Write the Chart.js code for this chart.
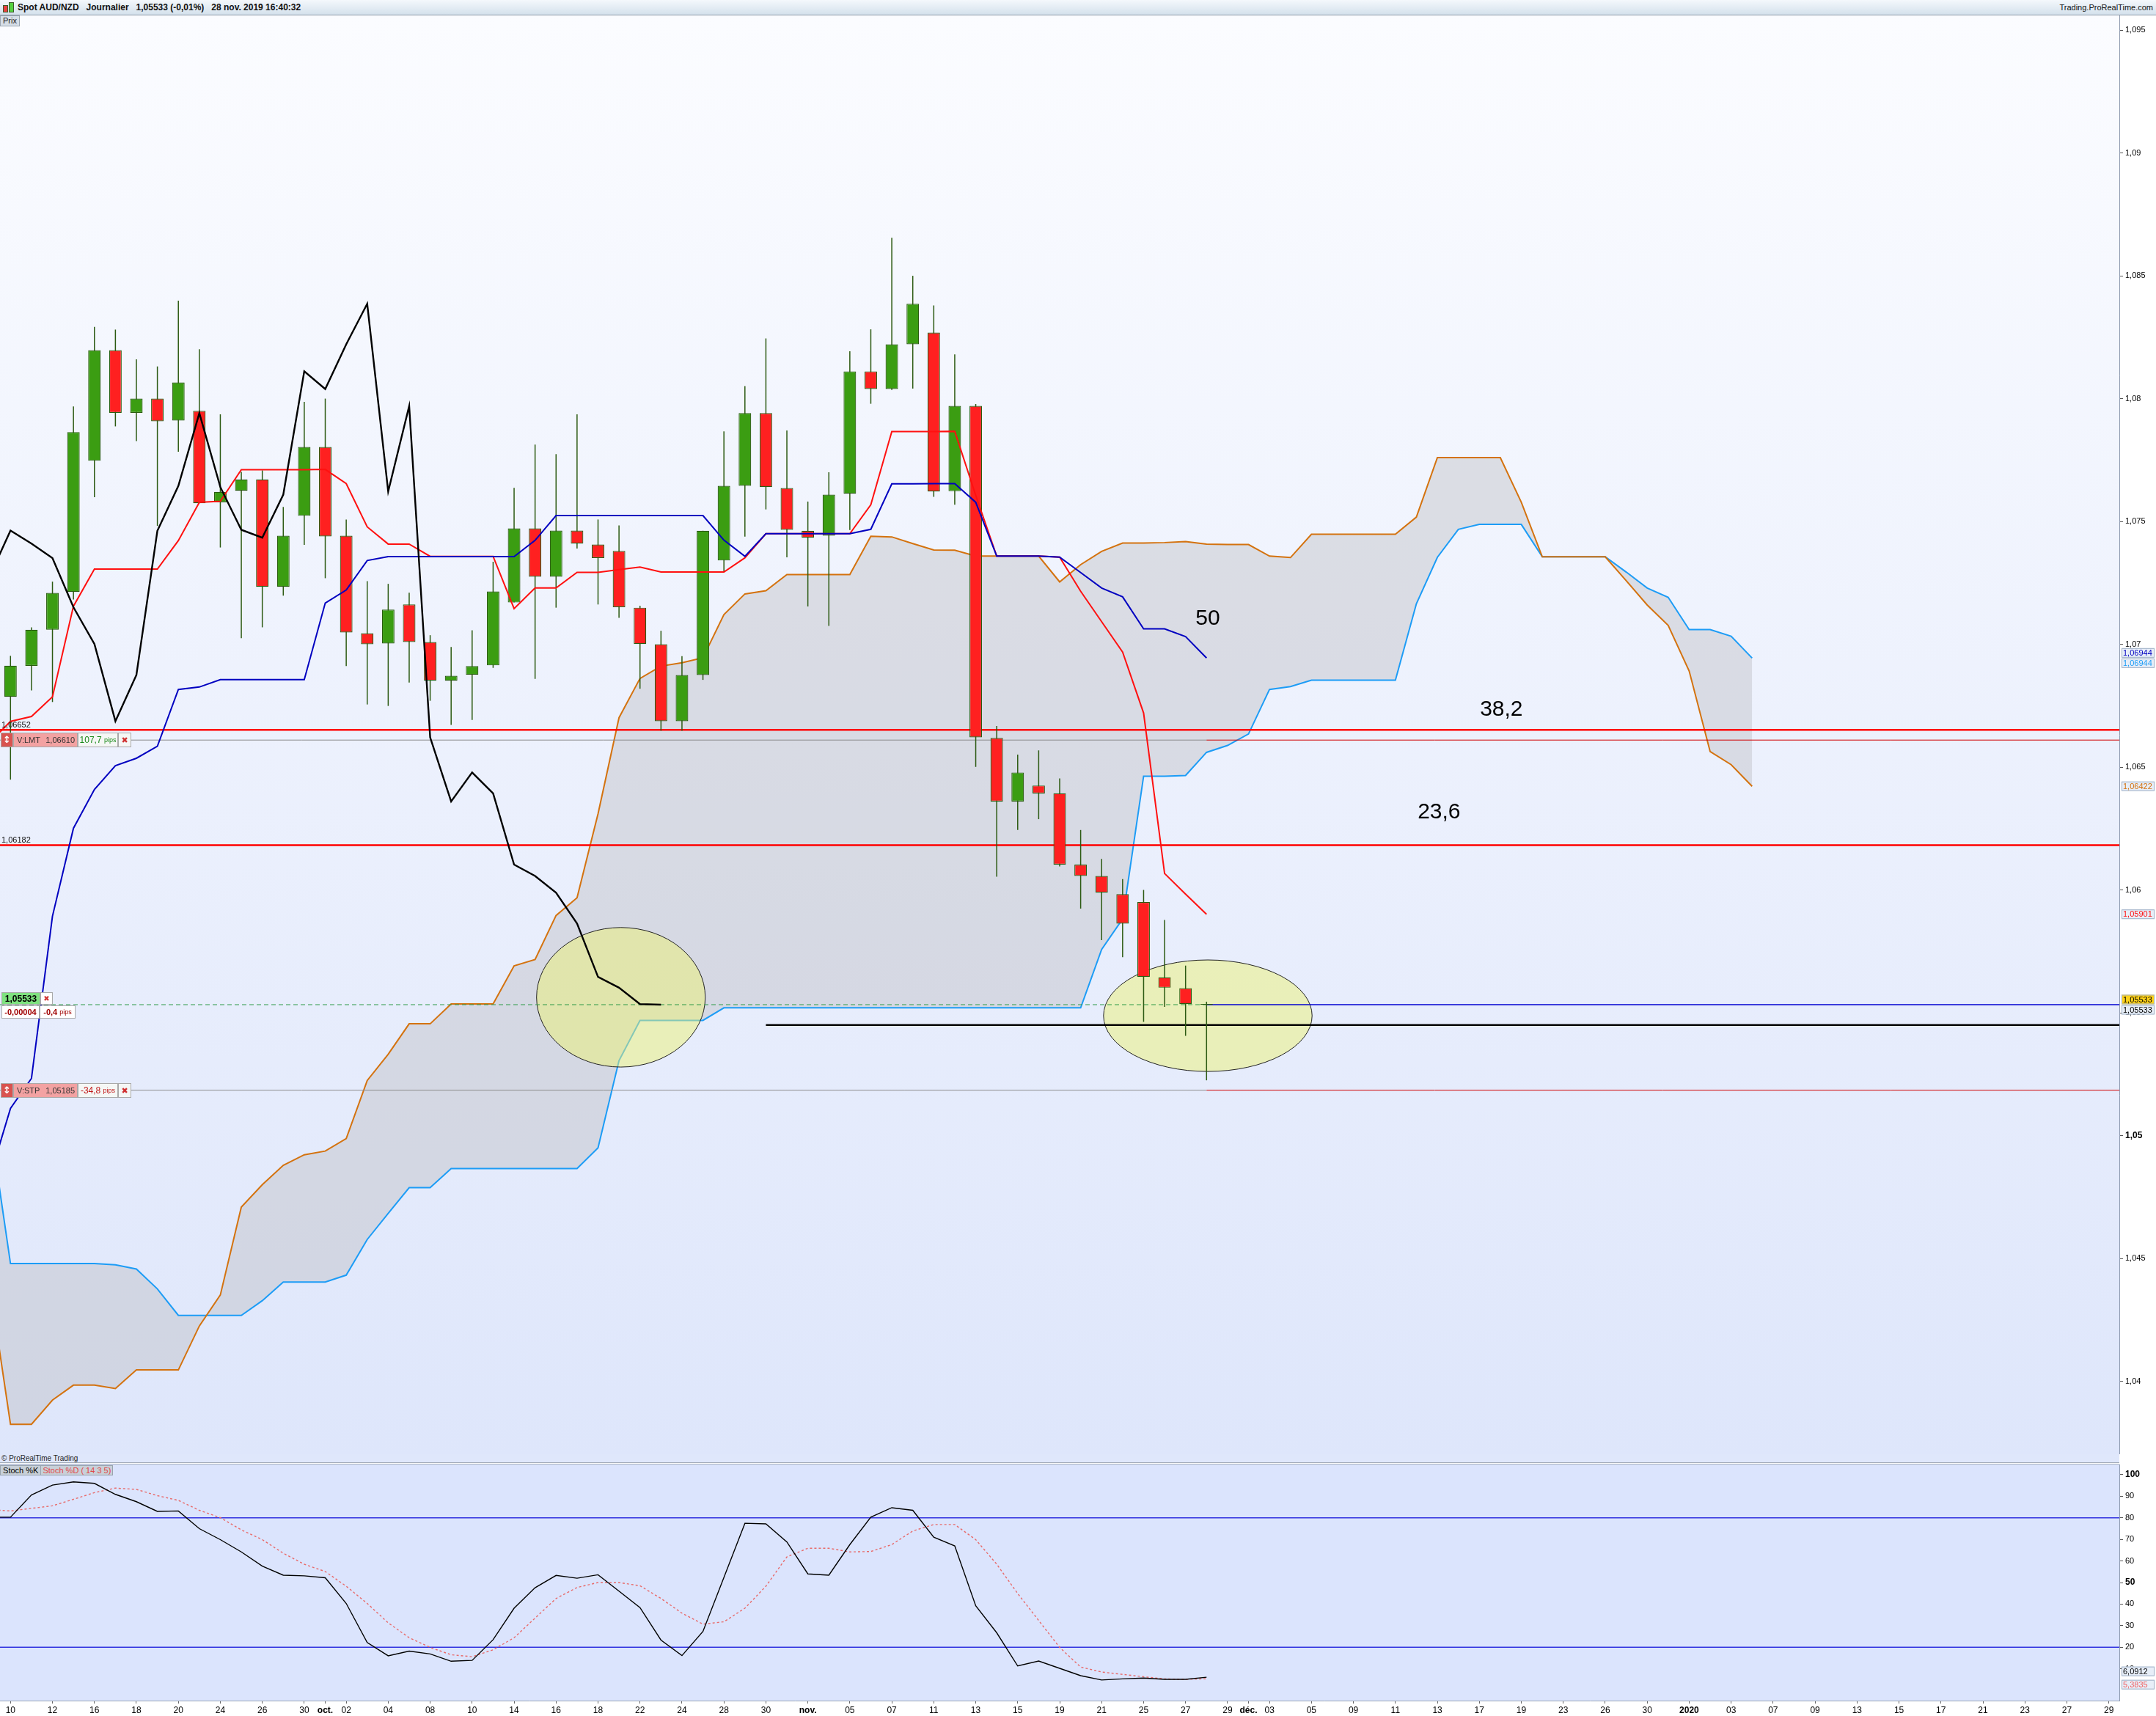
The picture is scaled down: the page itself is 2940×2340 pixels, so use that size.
<!DOCTYPE html>
<html lang="fr">
<head>
<meta charset="utf-8">
<title>Spot AUD/NZD Journalier</title>
<script src="https://cdn.jsdelivr.net/npm/chart.js@4.4.1/dist/chart.umd.min.js"></script>
<style>
  html, body { margin: 0; padding: 0; background: #fff; }
  #page { position: relative; width: 2940px; height: 2340px; overflow: hidden; background: #fff;
          font-family: "Liberation Sans Narrow", "Liberation Sans", Arial, sans-serif; }
  #header { position: absolute; left: 0; top: 0; width: 2940px; height: 20px;
            background: linear-gradient(#f4f8fc, #d4e1ec); border-bottom: 1px solid #8d9aa8; }
  #header .title { position: absolute; left: 24px; top: 3px; font-size: 12px; font-weight: bold; color: #111; white-space: pre; }
  #header .site { position: absolute; right: 4px; top: 4px; font-size: 11px; color: #111;
                  font-family: "Liberation Sans", Arial, sans-serif; }
  .ico { position: absolute; width: 5px; border: 1px solid #3b5a2a; }
  #prix { position: absolute; left: 0; top: 21px; padding: 0 3px; height: 13px; line-height: 13px; font-size: 11px;
          background: #d6dee7; border: 1px solid #9aa5b1; color: #222; z-index: 2; }
  canvas { position: absolute; left: 0; }
  #price { top: 21px; }
  #stoch { top: 1997px; }
  #strip { position: absolute; left: 0; top: 1983px; width: 2890px; height: 11px; background: #dfe7fb;
           font-size: 10px; line-height: 11px; color: #222; padding-left: 2px; box-sizing: border-box; }
  .sep { position: absolute; left: 0; width: 2890px; height: 1px; background: #a2abb8; }
  #stochTag { position: absolute; left: 0; top: 1998px; height: 12px; line-height: 12px; font-size: 11px;
              background: #c8d0d8; border: 1px solid #98a3ae; z-index: 2; white-space: pre; }
  #stochTag .d { color: #e04848; border-left: 1px solid #98a3ae; padding: 0 2px; }
</style>
</head>
<body>
<div id="page">
  <div id="header">
    <div class="ico" style="left:4px; top:7px; height:8px; background:#e84040;"></div>
    <div class="ico" style="left:12px; top:3px; height:12px; background:#55d040;"></div>
    <div class="title">Spot AUD/NZD   Journalier   1,05533 (-0,01%)   28 nov. 2019 16:40:32</div>
    <div class="site">Trading.ProRealTime.com</div>
  </div>
  <div id="prix">Prix</div>
  <canvas id="price" width="2940" height="1962"></canvas>
  <div id="strip">© ProRealTime Trading</div>
  <div class="sep" style="top:1994px"></div>
  <div class="sep" style="top:1996px"></div>
  <div id="stochTag"> Stoch %K <span class="d">Stoch %D ( 14 3 5)</span></div>
  <canvas id="stoch" width="2940" height="343"></canvas>
</div>

<script>
// ---------- SESSIONS (daily bars, weekends and 25 Dec closed) ----------
const sessions = [
  ["2019-09", [9, 10, 11, 12, 13, 16, 17, 18, 19, 20, 23, 24, 25, 26, 27, 30]],
  ["2019-10", [1, 2, 3, 4, 7, 8, 9, 10, 11, 14, 15, 16, 17, 18, 21, 22, 23, 24, 25, 28, 29, 30, 31]],
  ["2019-11", [1, 4, 5, 6, 7, 8, 11, 12, 13, 14, 15, 18, 19, 20, 21, 22, 25, 26, 27, 28, 29]],
  ["2019-12", [2, 3, 4, 5, 6, 9, 10, 11, 12, 13, 16, 17, 18, 19, 20, 23, 24, 26, 27, 30, 31]],
  ["2020-01", [1, 2, 3, 6, 7, 8, 9, 10, 13, 14, 15, 16, 17, 20, 21, 22, 23, 24, 27, 28, 29]],
];
const dates = [];
sessions.forEach(([month, days]) => days.forEach((d) => dates.push(month + "-" + String(d).padStart(2, "0"))));

const monthNames = { "10": "oct.", "11": "nov.", "12": "déc." };

// ---------- PRICE DATA (first candle = 10 sept.) ----------
const CANDLE_START = 1;
const opens = [
  1.06786, 1.06912, 1.07059, 1.07213, 1.07747, 1.08197, 1.07942, 1.08000, 1.07911, 1.07950,
  1.07578, 1.07625, 1.07671, 1.07234, 1.07523, 1.07803, 1.07442, 1.07045, 1.07003, 1.07162,
  1.07009, 1.06852, 1.06876, 1.06914, 1.07170, 1.07472, 1.07275, 1.07463, 1.07406, 1.07380,
  1.07149, 1.07000, 1.06687, 1.06875, 1.07341, 1.07645, 1.07941, 1.07636, 1.07462, 1.07442,
  1.07613, 1.08111, 1.08039, 1.08221, 1.08269, 1.07623, 1.07970, 1.06619, 1.06360, 1.06425,
  1.06393, 1.06103, 1.06057, 1.05983, 1.05951, 1.05644, 1.05600, 1.05533,
];
const closes = [
  1.06913, 1.07059, 1.07209, 1.07864, 1.08197, 1.07942, 1.08000, 1.07908, 1.08066, 1.07574,
  1.07620, 1.07671, 1.07234, 1.07442, 1.07803, 1.07439, 1.07048, 1.07000, 1.07141, 1.07009,
  1.06852, 1.06872, 1.06911, 1.07215, 1.07472, 1.07275, 1.07463, 1.07410, 1.07351, 1.07151,
  1.07001, 1.06687, 1.06875, 1.07462, 1.07645, 1.07941, 1.07640, 1.07466, 1.07434, 1.07609,
  1.08111, 1.08039, 1.08221, 1.08386, 1.07622, 1.07970, 1.06621, 1.06360, 1.06478, 1.06393,
  1.06103, 1.06057, 1.05989, 1.05863, 1.05646, 1.05602, 1.05535, 1.05533,
];
const highs = [
  1.06953, 1.07069, 1.07255, 1.07968, 1.08292, 1.08281, 1.08160, 1.08131, 1.08399, 1.08201,
  1.07936, 1.07702, 1.07708, 1.07559, 1.07987, 1.08000, 1.07508, 1.07257, 1.07246, 1.07210,
  1.07037, 1.06989, 1.07057, 1.07336, 1.07637, 1.07813, 1.07774, 1.07936, 1.07508, 1.07484,
  1.07157, 1.07055, 1.06952, 1.07462, 1.07867, 1.08051, 1.08245, 1.07870, 1.07581, 1.07700,
  1.08193, 1.08282, 1.08655, 1.08500, 1.08379, 1.08180, 1.07978, 1.06667, 1.06551, 1.06568,
  1.06454, 1.06244, 1.06126, 1.06044, 1.06000, 1.05878, 1.05692, 1.05545,
];
const lows = [
  1.06449, 1.06812, 1.06765, 1.07182, 1.07599, 1.07887, 1.07827, 1.07482, 1.07784, 1.07574,
  1.07394, 1.07025, 1.07069, 1.07198, 1.07405, 1.07269, 1.06911, 1.06755, 1.06749, 1.06844,
  1.06770, 1.06672, 1.06692, 1.06904, 1.07170, 1.06859, 1.07149, 1.07390, 1.07162, 1.07108,
  1.06819, 1.06648, 1.06648, 1.06855, 1.07294, 1.07438, 1.07549, 1.07354, 1.07154, 1.07075,
  1.07465, 1.07979, 1.08035, 1.08041, 1.07600, 1.07568, 1.06501, 1.06054, 1.06244, 1.06288,
  1.06096, 1.05924, 1.05796, 1.05726, 1.05463, 1.05524, 1.05406, 1.05225,
];

// ---------- ICHIMOKU (first value = 9 sept.) ----------
const tenkan = [
  1.06600, 1.06686, 1.06706, 1.06786, 1.07155, 1.07306, 1.07306, 1.07306, 1.07306, 1.07422,
  1.07578, 1.07582, 1.07711, 1.07711, 1.07711, 1.07711, 1.07712, 1.07654, 1.07478, 1.07408,
  1.07408, 1.07358, 1.07358, 1.07358, 1.07358, 1.07145, 1.07229, 1.07229, 1.07293, 1.07293,
  1.07304, 1.07314, 1.07294, 1.07294, 1.07294, 1.07294, 1.07352, 1.07450, 1.07450, 1.07450,
  1.07450, 1.07450, 1.07568, 1.07866, 1.07866, 1.07866, 1.07867, 1.07606, 1.07359, 1.07359,
  1.07359, 1.07355, 1.07216, 1.07092, 1.06968, 1.06720, 1.06067, 1.05983, 1.05901,
];
const kijun = [
  1.04827, 1.05111, 1.05233, 1.05893, 1.06251, 1.06409, 1.06506, 1.06536, 1.06585, 1.06816,
  1.06826, 1.06856, 1.06856, 1.06856, 1.06856, 1.06856, 1.07168, 1.07221, 1.07341, 1.07357,
  1.07357, 1.07357, 1.07357, 1.07357, 1.07357, 1.07357, 1.07423, 1.07524, 1.07524, 1.07524,
  1.07524, 1.07524, 1.07524, 1.07524, 1.07524, 1.07424, 1.07358, 1.07450, 1.07450, 1.07450,
  1.07450, 1.07450, 1.07468, 1.07653, 1.07653, 1.07654, 1.07654, 1.07578, 1.07359, 1.07359,
  1.07359, 1.07355, 1.07292, 1.07229, 1.07193, 1.07063, 1.07063, 1.07031, 1.06944,
];
const senkouB = [
  1.04399, 1.03825, 1.03825, 1.03923, 1.03984, 1.03984, 1.03970, 1.04046, 1.04046, 1.04046,
  1.04225, 1.04351, 1.04709, 1.04800, 1.04879, 1.04922, 1.04937, 1.04988, 1.05224, 1.05331,
  1.05455, 1.05455, 1.05536, 1.05536, 1.05536, 1.05691, 1.05717, 1.05896, 1.05968, 1.06310,
  1.06701, 1.06861, 1.06911, 1.06925, 1.06945, 1.07121, 1.07205, 1.07218, 1.07284, 1.07284,
  1.07284, 1.07284, 1.07440, 1.07437, 1.07410, 1.07384, 1.07383, 1.07359, 1.07359, 1.07359,
  1.07359, 1.07254, 1.07324, 1.07378, 1.07412, 1.07412, 1.07414, 1.07418, 1.07408, 1.07406,
  1.07406, 1.07359, 1.07353, 1.07448, 1.07448, 1.07448, 1.07448, 1.07448, 1.07518, 1.07760,
  1.07760, 1.07760, 1.07760, 1.07578, 1.07356, 1.07356, 1.07356, 1.07356, 1.07259, 1.07160,
  1.07077, 1.06891, 1.06563, 1.06510, 1.06422,
];
const senkouA = [
  1.05063, 1.04479, 1.04479, 1.04479, 1.04479, 1.04479, 1.04474, 1.04457, 1.04376, 1.04268,
  1.04268, 1.04268, 1.04268, 1.04328, 1.04404, 1.04404, 1.04404, 1.04432, 1.04577, 1.04683,
  1.04788, 1.04788, 1.04866, 1.04866, 1.04866, 1.04866, 1.04866, 1.04866, 1.04866, 1.04950,
  1.05305, 1.05469, 1.05469, 1.05469, 1.05469, 1.05520, 1.05520, 1.05520, 1.05520, 1.05520,
  1.05520, 1.05520, 1.05520, 1.05520, 1.05520, 1.05520, 1.05520, 1.05520, 1.05520, 1.05520,
  1.05520, 1.05520, 1.05520, 1.05758, 1.05882, 1.06463, 1.06463, 1.06466, 1.06560, 1.06588,
  1.06635, 1.06816, 1.06828, 1.06854, 1.06854, 1.06854, 1.06854, 1.06854, 1.07165, 1.07354,
  1.07468, 1.07488, 1.07488, 1.07488, 1.07356, 1.07356, 1.07356, 1.07356, 1.07294, 1.07229,
  1.07191, 1.07060, 1.07060, 1.07033, 1.06944,
];
const CHIKOU_LAG = 26;

// ---------- STOCHASTIC (first value = 9 sept.) ----------
const stochK = [
  80.3, 80.3, 90.6, 95.2, 96.7, 96.0, 90.9, 87.5, 83.0, 83.2,
  75.0, 69.9, 64.2, 57.6, 53.4, 53.1, 52.2, 40.3, 22.2, 16.0,
  18.2, 16.9, 13.5, 13.9, 23.5, 38.1, 47.6, 53.3, 52.0, 53.6,
  46.0, 38.4, 23.3, 16.1, 27.3, 52.4, 77.5, 77.2, 68.8, 54.0,
  53.4, 67.6, 80.3, 84.7, 83.5, 71.0, 67.0, 39.2, 26.7, 11.3,
  13.6, 10.2, 6.8, 4.8, 5.3, 5.7, 5.1, 5.1, 6.0912,
];
const stochD = [
  83.8, 83.2, 84.4, 85.6, 88.6, 91.7, 93.8, 93.2, 90.3, 88.1,
  83.5, 80.1, 74.4, 69.9, 63.6, 58.5, 55.1, 48.3, 40.3, 31.3,
  24.4, 19.9, 16.5, 15.6, 18.8, 24.4, 33.5, 42.6, 47.7, 50.0,
  50.0, 48.5, 42.6, 35.8, 30.7, 31.8, 38.1, 48.3, 61.9, 65.9,
  65.9, 64.2, 64.4, 67.6, 73.9, 76.9, 76.9, 69.9, 58.5, 44.9,
  32.4, 19.9, 10.8, 8.5, 7.4, 6.3, 5.3, 5.1, 5.3835,
];
const stochBands = [80, 20];
const stochTicks = [10, 20, 30, 40, 50, 60, 70, 80, 90, 100];

// ---------- LEVELS & ANNOTATIONS ----------
const priceTicks = [1.04, 1.045, 1.05, 1.055, 1.06, 1.065, 1.07, 1.075, 1.08, 1.085, 1.09, 1.095];
const fibLevels = [1.06652, 1.06182];
const fibNames = ["38,2", "23,6"];
const fibNamePos = [[72.05, 1.06733], [69.08, 1.06315]];
const kijunNote = { text: "50", x: 58.06, y: 1.07103 };
const lastPrice = 1.05533;
const lastChange = { value: "-0,00004", pips: "-0,4" };
const orderLimit = { name: "V:LMT", price: 1.06610, pips: "107,7", color: "#1b8a1b" };
const orderStop = { name: "V:STP", price: 1.05185, pips: "-34,8", color: "#c01818" };
const supportLevel = 1.05450;
const supportFrom = 37;
const circles = [
  { x: 30.09, y: 1.05563, rx: 4.02, ry: 0.00284 },
  { x: 58.06, y: 1.05488, rx: 4.97, ry: 0.00227 },
];

const PRICE_MIN = 1.03703;
const PRICE_MAX = 1.09560;
const X_MIN = 0.5;
const X_MAX = dates.length - 0.5;
const LAST_POS = CANDLE_START + closes.length - 1;
const AXIS_W = 50;

// ---------- HELPERS ----------
const fmt = (v, d) => v.toFixed(d).replace(".", ",");
const fmtTick = (v) => String(Math.round(v * 1000) / 1000).replace(".", ",");
const toPoints = (arr, start = 0) => arr.map((v, i) => ({ x: i + start, y: v }));

function isMonthStart(p) {
  return p > 0 && dates[p].slice(0, 7) !== dates[p - 1].slice(0, 7);
}
function tickText(p) {
  const d = dates[p];
  if (!d) return "";
  if (isMonthStart(p)) {
    const m = d.slice(5, 7);
    return m === "01" ? d.slice(0, 4) : monthNames[m];
  }
  return d.slice(8, 10);
}
const tickPositions = dates.map((d, p) => p).filter((p) => p >= 1 && (p % 2 === 1 || isMonthStart(p)));

const NARROW = "'Liberation Sans Narrow', 'Liberation Sans', Arial, sans-serif";
const SANS = "'Liberation Sans', Arial, sans-serif";
Chart.defaults.font.family = SANS;

function hline(chart, value, fromPos, toPos, color, width, dash) {
  const { ctx, chartArea, scales } = chart;
  const y = scales.y.getPixelForValue(value);
  const x0 = fromPos == null ? chartArea.left : scales.x.getPixelForValue(fromPos);
  const x1 = toPos == null ? chartArea.right : scales.x.getPixelForValue(toPos);
  ctx.save();
  ctx.strokeStyle = color;
  ctx.lineWidth = width;
  ctx.setLineDash(dash || []);
  ctx.beginPath();
  ctx.moveTo(x0, y);
  ctx.lineTo(x1, y);
  ctx.stroke();
  ctx.restore();
}

// a row of boxed cells; each cell holds one or more text parts
function cellRow(ctx, x, top, h, cells) {
  cells.forEach((c) => {
    ctx.fillStyle = c.bg;
    ctx.fillRect(x, top, c.w, h);
    ctx.strokeStyle = "#a9a9a9";
    ctx.lineWidth = 1;
    ctx.strokeRect(x + 0.5, top + 0.5, c.w - 1, h - 1);
    ctx.textBaseline = "middle";
    ctx.textAlign = "left";
    const parts = c.parts;
    if (c.spread && parts.length === 2) {
      ctx.font = parts[0].font; ctx.fillStyle = parts[0].color;
      ctx.fillText(parts[0].text, x + 5, top + h / 2 + 1);
      ctx.font = parts[1].font; ctx.fillStyle = parts[1].color;
      ctx.textAlign = "right";
      ctx.fillText(parts[1].text, x + c.w - 4, top + h / 2 + 1);
    } else {
      let total = 0;
      parts.forEach((p) => { ctx.font = p.font; total += ctx.measureText(p.text).width; });
      let cx = x + (c.w - total) / 2;
      parts.forEach((p) => {
        ctx.font = p.font; ctx.fillStyle = p.color;
        ctx.fillText(p.text, cx, top + h / 2 + 1);
        cx += ctx.measureText(p.text).width;
      });
    }
    x += c.w;
  });
}

function orderRow(ctx, y, order) {
  cellRow(ctx, 1, y - 10, 20, [
    { w: 17, bg: "#d9534f", parts: [{ text: "↕", color: "#fff", font: "bold 13px 'DejaVu Sans'" }] },
    { w: 88, bg: "#f3a2a2", spread: true, parts: [
      { text: order.name, color: "#333", font: "11px " + SANS },
      { text: fmt(order.price, 5), color: "#333", font: "11px " + SANS }] },
    { w: 55, bg: "#f5f7f5", parts: [
      { text: order.pips + " ", color: order.color, font: "12px " + SANS },
      { text: "pips", color: order.color, font: "9px " + SANS }] },
    { w: 18, bg: "#f5f7f5", parts: [{ text: "✖", color: "#d03030", font: "11px 'DejaVu Sans'" }] },
  ]);
}

function axisTag(chart, value, text, color, bg, dy) {
  const { ctx, chartArea, scales } = chart;
  const y = scales.y.getPixelForValue(value) + (dy || 0);
  const x = chartArea.right + 3;
  ctx.save();
  ctx.fillStyle = bg || "#e7eef8";
  ctx.fillRect(x, y - 6.5, 45, 13);
  ctx.strokeStyle = "#9fb0c6";
  ctx.lineWidth = 1;
  ctx.strokeRect(x + 0.5, y - 6, 44, 12);
  ctx.fillStyle = color;
  ctx.font = "11px " + SANS;
  ctx.textAlign = "left";
  ctx.textBaseline = "middle";
  ctx.fillText(text, x + 2, y + 0.5);
  ctx.restore();
}

// ---------- MAIN PANEL PLUGIN ----------
const pricePanel = {
  id: "pricePanel",
  beforeDraw(chart) {
    const { ctx, chartArea: a } = chart;
    const g = ctx.createLinearGradient(0, a.top, 0, a.bottom);
    g.addColorStop(0, "#fbfcff");
    g.addColorStop(1, "#dee6fb");
    ctx.save();
    ctx.fillStyle = g;
    ctx.fillRect(a.left, a.top, a.right - a.left, a.bottom - a.top);
    ctx.restore();
  },
  afterDatasetDraw(chart, args) {
    if (args.index !== 0) return;
    const { ctx, chartArea: a, scales } = chart;
    ctx.save();
    ctx.beginPath();
    ctx.rect(a.left, a.top, a.right - a.left, a.bottom - a.top);
    ctx.clip();

    // circled zones
    circles.forEach((e) => {
      const cx = scales.x.getPixelForValue(e.x);
      const cy = scales.y.getPixelForValue(e.y);
      const rx = scales.x.getPixelForValue(e.x + e.rx) - cx;
      const ry = cy - scales.y.getPixelForValue(e.y + e.ry);
      ctx.beginPath();
      ctx.ellipse(cx, cy, rx, ry, 0, 0, Math.PI * 2);
      ctx.fillStyle = "rgba(236, 242, 118, 0.5)";
      ctx.fill();
      ctx.strokeStyle = "#222";
      ctx.lineWidth = 1;
      ctx.stroke();
    });

    // orders
    hline(chart, orderLimit.price, null, LAST_POS, "#8c8c8c", 1);
    hline(chart, orderLimit.price, LAST_POS, null, "#d00000", 1);
    hline(chart, orderStop.price, null, LAST_POS, "#8c8c8c", 1);
    hline(chart, orderStop.price, LAST_POS, null, "#d00000", 1);
    // fibonacci levels
    fibLevels.forEach((v) => hline(chart, v, null, null, "#ff0000", 2.5));
    // last price and support
    hline(chart, lastPrice, null, LAST_POS, "#2d9a47", 1.2, [6, 4]);
    hline(chart, lastPrice, LAST_POS, null, "#0000d0", 1.6);
    hline(chart, supportLevel, supportFrom, null, "#000000", 2.4);
    ctx.restore();
  },
  afterDraw(chart) {
    const { ctx, chartArea: a, scales } = chart;
    const y = (v) => scales.y.getPixelForValue(v);
    const x = (p) => scales.x.getPixelForValue(p);
    ctx.save();

    // small level values above the fib lines
    ctx.font = "11px " + SANS;
    ctx.fillStyle = "#111";
    ctx.textAlign = "left";
    ctx.textBaseline = "bottom";
    fibLevels.forEach((v) => ctx.fillText(fmt(v, 5), a.left + 2, y(v) - 1));

    // big annotations
    ctx.font = "30px " + SANS;
    ctx.fillStyle = "#000";
    ctx.textAlign = "center";
    ctx.textBaseline = "middle";
    fibNames.forEach((t, i) => ctx.fillText(t, x(fibNamePos[i][0]), y(fibNamePos[i][1])));
    ctx.fillText(kijunNote.text, x(kijunNote.x), y(kijunNote.y));

    // order tags
    orderRow(ctx, Math.round(y(orderLimit.price)), orderLimit);
    orderRow(ctx, Math.round(y(orderStop.price)), orderStop);
    const lastY = Math.round(y(lastPrice));
    cellRow(ctx, 2, lastY - 17, 17, [
      { w: 53, bg: "#7fe27f", parts: [{ text: fmt(lastPrice, 5), color: "#000", font: "bold 12px " + SANS }] },
      { w: 17, bg: "#ffffff", parts: [{ text: "✖", color: "#d03030", font: "10px 'DejaVu Sans'" }] },
    ]);
    cellRow(ctx, 2, lastY + 1, 18, [
      { w: 52, bg: "#ffffff", parts: [{ text: lastChange.value, color: "#a00000", font: "bold 11px " + SANS }] },
      { w: 49, bg: "#ffffff", parts: [
        { text: lastChange.pips + " ", color: "#a00000", font: "bold 11px " + SANS },
        { text: "pips", color: "#a00000", font: "9px " + SANS }] },
    ]);

    // right axis tags
    axisTag(chart, kijun[kijun.length - 1], fmt(kijun[kijun.length - 1], 5), "#0000c0", null, -7);
    axisTag(chart, senkouA[senkouA.length - 1], fmt(senkouA[senkouA.length - 1], 5), "#1c9cf6", null, 7);
    axisTag(chart, senkouB[senkouB.length - 1], fmt(senkouB[senkouB.length - 1], 5), "#d4720e");
    axisTag(chart, tenkan[tenkan.length - 1], fmt(tenkan[tenkan.length - 1], 5), "#ff1010");
    axisTag(chart, lastPrice, fmt(lastPrice, 5), "#000", "#ffd21a", -7);
    axisTag(chart, lastPrice, fmt(lastPrice, 5), "#000", null, 7);
    ctx.restore();
  },
};

// ---------- MAIN CHART ----------
const wickData = highs.map((h, i) => ({ x: i + CANDLE_START, y: [lows[i], h] }));
const bodyData = opens.map((o, i) => ({ x: i + CANDLE_START, y: [o, closes[i]] }));
const bodyColors = opens.map((o, i) => (closes[i] >= o ? "#3b9d12" : "#ff2020"));
const chikou = toPoints(closes.slice(CHIKOU_LAG - CANDLE_START), 0);

const priceChart = new Chart(document.getElementById("price"), {
  type: "bar",
  data: {
    datasets: [
      { type: "line", label: "Senkou B", data: toPoints(senkouB), borderColor: "#d4720e", borderWidth: 2,
        pointRadius: 0, tension: 0, order: 10 },
      { type: "line", label: "Senkou A", data: toPoints(senkouA), borderColor: "#1c9cf6", borderWidth: 2,
        pointRadius: 0, tension: 0, fill: "-1", backgroundColor: "rgba(188, 189, 194, 0.42)", order: 11 },
      { label: "Mèches", data: wickData, backgroundColor: "#2c5a12", grouped: false, maxBarThickness: 1.5, order: 6 },
      { label: "Corps", data: bodyData, backgroundColor: bodyColors, borderColor: "#2a5c10", borderWidth: 1.2,
        borderSkipped: false, grouped: false, maxBarThickness: 17, minBarLength: 1, order: 5 },
      { type: "line", label: "Tenkan", data: toPoints(tenkan), borderColor: "#ff1010", borderWidth: 2,
        pointRadius: 0, tension: 0, order: 4 },
      { type: "line", label: "Kijun", data: toPoints(kijun), borderColor: "#0000c0", borderWidth: 2,
        pointRadius: 0, tension: 0, order: 3 },
      { type: "line", label: "Chikou", data: chikou, borderColor: "#000000", borderWidth: 2.4,
        pointRadius: 0, tension: 0, order: 2 },
    ],
  },
  options: {
    responsive: false,
    animation: false,
    devicePixelRatio: 1,
    events: [],
    layout: { padding: 0 },
    plugins: { legend: { display: false }, tooltip: { enabled: false } },
    scales: {
      x: {
        type: "linear", min: X_MIN, max: X_MAX, offset: false, display: false,
        afterBuildTicks: (s) => { s.ticks = tickPositions.map((v) => ({ value: v })); },
      },
      y: {
        position: "right", min: PRICE_MIN, max: PRICE_MAX,
        afterBuildTicks: (s) => { s.ticks = priceTicks.map((v) => ({ value: v })); },
        afterFit: (s) => { s.width = AXIS_W; s.paddingTop = 0; s.paddingBottom = 0; },
        ticks: {
          padding: 3, color: "#000",
          font: (c) => ({ size: c.tick && Math.abs(c.tick.value - 1.05) < 1e-9 ? 12 : 11,
                          weight: c.tick && Math.abs(c.tick.value - 1.05) < 1e-9 ? "bold" : "normal" }),
          callback: (v) => fmtTick(v),
        },
        grid: { drawOnChartArea: false, drawTicks: true, tickLength: 5, color: "#555" },
        border: { display: true, color: "#8f9bb0" },
      },
    },
  },
  plugins: [pricePanel],
});

// ---------- STOCHASTIC PANEL ----------
const stochPanel = {
  id: "stochPanel",
  beforeDraw(chart) {
    const { ctx, chartArea: a } = chart;
    ctx.save();
    ctx.fillStyle = "#dbe4fd";
    ctx.fillRect(a.left, a.top, a.right - a.left, a.bottom - a.top);
    ctx.restore();
  },
  beforeDatasetsDraw(chart) {
    stochBands.forEach((v) => hline(chart, v, null, null, "#3232e0", 1.5));
  },
  afterDraw(chart) {
    const { ctx } = chart;
    ctx.save();
    axisTag(chart, stochK[stochK.length - 1], fmt(stochK[stochK.length - 1], 4), "#000", null, -8);
    axisTag(chart, stochD[stochD.length - 1], fmt(stochD[stochD.length - 1], 4), "#f06060", null, 8);
    ctx.restore();
  },
};

const stochChart = new Chart(document.getElementById("stoch"), {
  type: "line",
  data: {
    datasets: [
      { label: "Stoch %K", data: toPoints(stochK), borderColor: "#000", borderWidth: 1.4, pointRadius: 0, tension: 0 },
      { label: "Stoch %D", data: toPoints(stochD), borderColor: "#e86a6a", borderWidth: 1.4, borderDash: [3, 3],
        pointRadius: 0, tension: 0 },
    ],
  },
  options: {
    responsive: false,
    animation: false,
    devicePixelRatio: 1,
    events: [],
    layout: { padding: 0 },
    plugins: { legend: { display: false }, tooltip: { enabled: false } },
    scales: {
      x: {
        type: "linear", min: X_MIN, max: X_MAX, offset: false,
        afterBuildTicks: (s) => { s.ticks = tickPositions.map((v) => ({ value: v })); },
        afterFit: (s) => { s.height = 21; s.paddingLeft = 0; s.paddingRight = 0; },
        ticks: {
          autoSkip: false, maxRotation: 0, minRotation: 0, padding: 2, color: "#000",
          font: (c) => ({ family: NARROW, size: 12, weight: c.tick && isMonthStart(c.tick.value) ? "bold" : "normal" }),
          callback: (v) => tickText(v),
        },
        grid: { drawOnChartArea: false, drawTicks: true, tickLength: 4, color: "#666" },
        border: { display: true, color: "#9aa6b8" },
      },
      y: {
        position: "right", min: -4.76, max: 104.76,
        afterBuildTicks: (s) => { s.ticks = stochTicks.map((v) => ({ value: v })); },
        afterFit: (s) => { s.width = AXIS_W; s.paddingTop = 0; s.paddingBottom = 0; },
        ticks: {
          padding: 3, color: "#000",
          font: (c) => ({ size: c.tick && (c.tick.value === 100 || c.tick.value === 50) ? 12 : 11,
                          weight: c.tick && (c.tick.value === 100 || c.tick.value === 50) ? "bold" : "normal" }),
          callback: (v) => String(v),
        },
        grid: { drawOnChartArea: false, drawTicks: true, tickLength: 5, color: "#555" },
        border: { display: true, color: "#8f9bb0" },
      },
    },
  },
  plugins: [stochPanel],
});
</script>
</body>
</html>
